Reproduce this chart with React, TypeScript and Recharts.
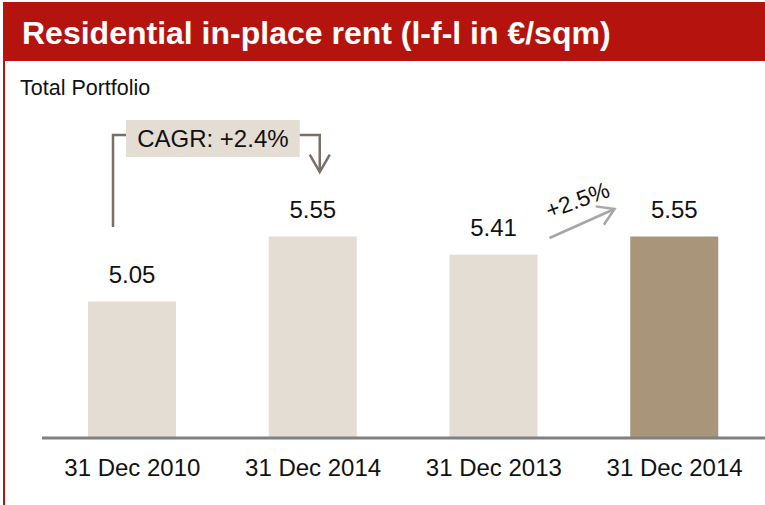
import React from 'react';
import { BarChart, Bar, XAxis, YAxis, Cell, LabelList } from 'recharts';

const categories = ['31 Dec 2010', '31 Dec 2014', '31 Dec 2013', '31 Dec 2014'];
const values = [5.05, 5.55, 5.41, 5.55];
const barColors = ['#E4DDD3', '#E4DDD3', '#E4DDD3', '#A8957A'];
const cagrLabel = 'CAGR: +2.4%';
const growthLabel = '+2.5%';
const titleText = 'Residential in-place rent (l-f-l in €/sqm)';
const subtitleText = 'Total Portfolio';

const data = categories.map((name, i) => ({ name, value: values[i] }));

const W = 765;
const H = 505;
const PLOT_LEFT = 42;
const PLOT_TOP = 178;
const PLOT_BOTTOM = 438;
const Y_MIN = 4;
const Y_MAX = 6;
const RED = '#B5140E';
const FONT = '"Liberation Sans", Arial, sans-serif';

function arrowHead(x1: number, y1: number, x2: number, y2: number, len: number, angDeg: number) {
  const a = Math.atan2(y1 - y2, x1 - x2);
  const d = (angDeg * Math.PI) / 180;
  const p1 = [x2 + len * Math.cos(a + d), y2 + len * Math.sin(a + d)];
  const p2 = [x2 + len * Math.cos(a - d), y2 + len * Math.sin(a - d)];
  return `M${p1[0]},${p1[1]} L${x2},${y2} L${p2[0]},${p2[1]}`;
}

function BarShape(props: any) {
  const { x, y, width, height, fill, index } = props;
  const cx = x + width / 2;
  const band = (W - PLOT_LEFT) / values.length;
  const els: React.ReactNode[] = [
    <rect key="r" x={x} y={y} width={width} height={height} fill={fill} />,
  ];
  if (index === 0) {
    const cx1 = cx + band;
    const lx = cx - 19;
    const ly = PLOT_TOP - 43;
    const boxL = cx - 6;
    const boxR = cx1 - 13;
    const rx = cx1 + 7;
    const stroke = '#7A6E66';
    els.push(
      <g key="cagr">
        <path d={`M${lx},${PLOT_TOP + 49} L${lx},${ly} L${boxL},${ly}`} fill="none" stroke={stroke} strokeWidth={2.5} />
        <rect x={boxL} y={PLOT_TOP - 58} width={boxR - boxL} height={37} fill="#E4DDD3" />
        <text x={(boxL + boxR) / 2} y={PLOT_TOP - 31} textAnchor="middle" fontSize={24} fontFamily={FONT} fill="#111">{cagrLabel}</text>
        <path d={`M${boxR},${ly} L${rx},${ly} L${rx},${PLOT_TOP - 6}`} fill="none" stroke={stroke} strokeWidth={2.5} />
        <path d={arrowHead(rx, ly, rx, PLOT_TOP - 6, 20, 30)} fill="none" stroke={stroke} strokeWidth={2.5} />
      </g>
    );
  }
  if (index === 2) {
    const x1 = cx + 56;
    const y1 = PLOT_TOP + 60;
    const x2 = cx + 121;
    const y2 = PLOT_TOP + 31;
    const stroke = '#A6A6A6';
    els.push(
      <g key="growth">
        <path d={`M${x1},${y1} L${x2},${y2}`} fill="none" stroke={stroke} strokeWidth={2.5} />
        <path d={arrowHead(x1, y1, x2, y2, 19, 32)} fill="none" stroke={stroke} strokeWidth={2.5} />
        <text x={cx + 84} y={PLOT_TOP + 22} textAnchor="middle" dominantBaseline="central" fontSize={23} fontFamily={FONT} fill="#111" transform={`rotate(-20 ${cx + 84} ${PLOT_TOP + 22})`}>{growthLabel}</text>
      </g>
    );
  }
  return <g>{els}</g>;
}

export default function App() {
  return (
    <div style={{ position: 'absolute', left: 0, top: 0, width: W, height: H, overflow: 'hidden', background: '#fff' }}>
      <BarChart
        width={W}
        height={H}
        data={data}
        margin={{ top: PLOT_TOP, right: 0, left: PLOT_LEFT, bottom: H - PLOT_BOTTOM - 40 }}
      >
        <XAxis
          dataKey="name"
          height={40}
          tickLine={false}
          tickSize={0}
          tickMargin={21}
          axisLine={{ stroke: '#808080', strokeWidth: 3 }}
          tick={{ fontSize: 24, fontFamily: FONT, fill: '#111' }}
          interval={0}
        />
        <YAxis hide domain={[Y_MIN, Y_MAX]} />
        <Bar dataKey="value" barSize={88} isAnimationActive={false} shape={<BarShape />}>
          {data.map((d, i) => (
            <Cell key={i} fill={barColors[i]} />
          ))}
          <LabelList dataKey="value" position="top" offset={18.5} fontSize={24} fontFamily={FONT} fill="#111" formatter={(v: any) => Number(v).toFixed(2)} />
        </Bar>
      </BarChart>
      <svg width={W} height={H} style={{ position: 'absolute', left: 0, top: 0, pointerEvents: 'none' }}>
        <rect x={3} y={2} width={W - 3} height={59} fill={RED} />
        <rect x={3} y={61} width={2} height={H - 61} fill={RED} />
        <text x={22} y={44} fontSize={32} fontWeight="bold" fontFamily={FONT} fill="#fff">{titleText}</text>
        <text x={20} y={95} fontSize={21.5} fontFamily={FONT} fill="#111">{subtitleText}</text>
      </svg>
    </div>
  );
}
